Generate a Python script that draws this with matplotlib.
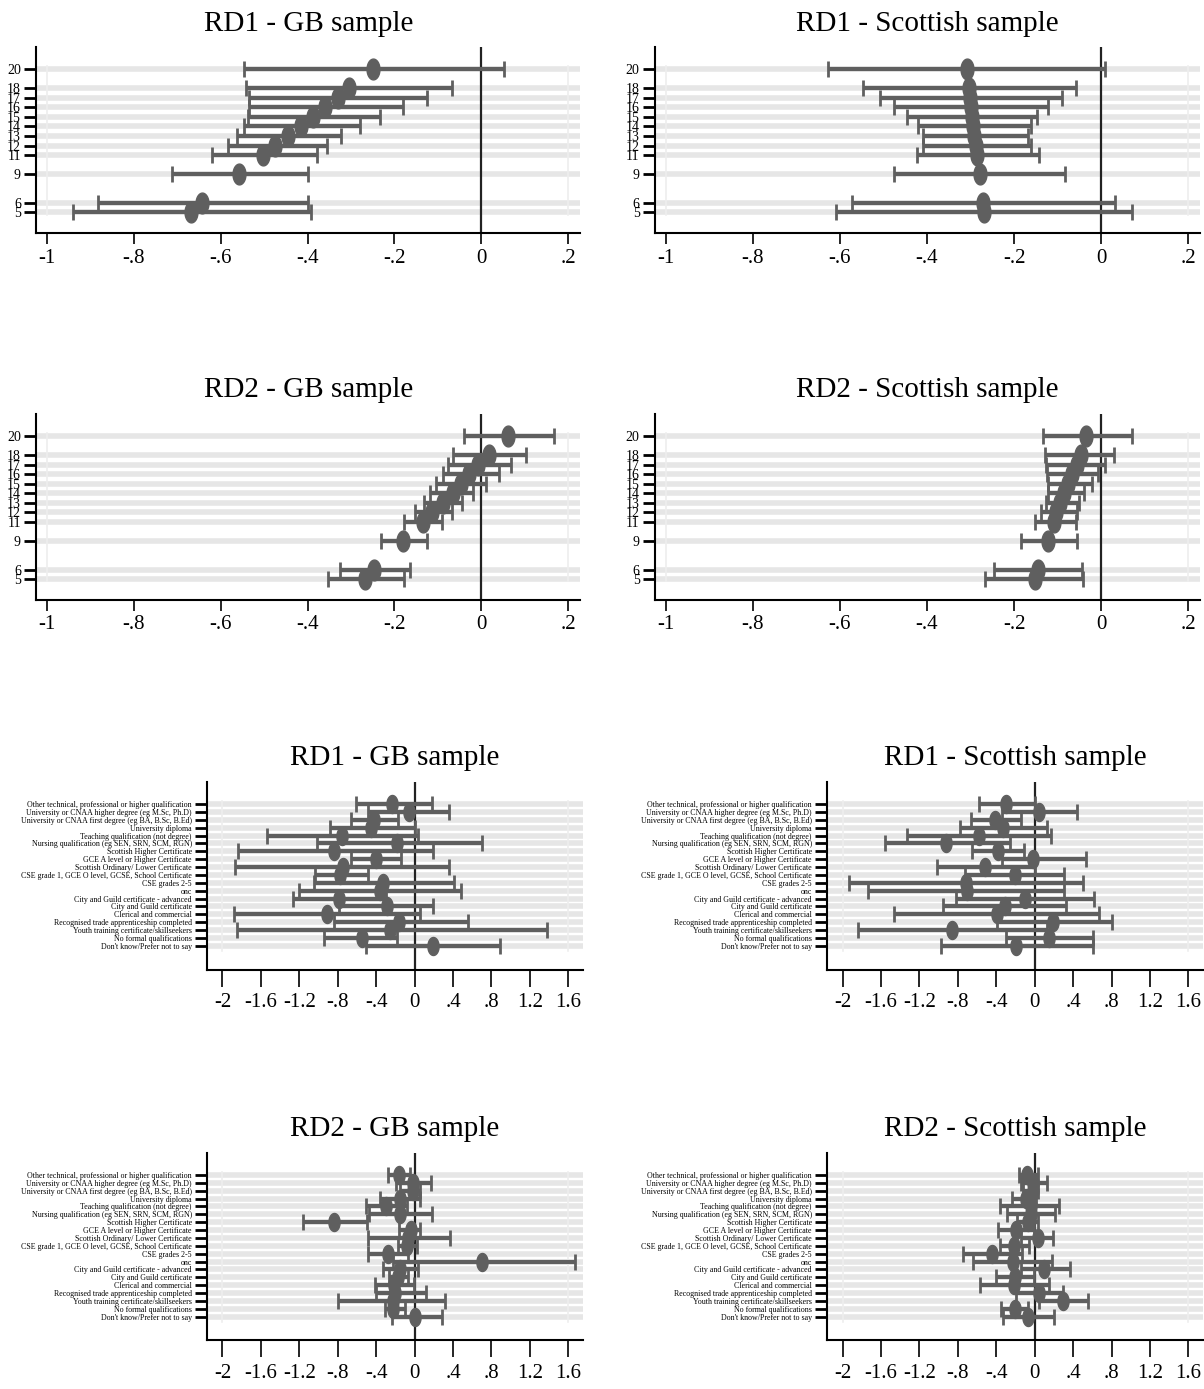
import numpy as np
import matplotlib
matplotlib.use('Agg')
import matplotlib.pyplot as plt
from matplotlib.path import Path

plt.rcParams['font.family'] = ['Liberation Serif', 'DejaVu Serif']

# ---- data: age groups (top two rows) ----
ages = [20, 18, 17, 16, 15, 14, 13, 12, 11, 9, 6, 5]
age_ticks = [5, 6, 9, 11, 12, 13, 14, 15, 16, 17, 18, 20]

rd1_gb_pt = [-0.249, -0.305, -0.331, -0.360, -0.387, -0.414, -0.444, -0.474, -0.503, -0.557, -0.642, -0.669]
rd1_gb_lo = [-0.546, -0.541, -0.536, -0.536, -0.538, -0.546, -0.562, -0.584, -0.621, -0.711, -0.882, -0.940]
rd1_gb_hi = [0.053, -0.067, -0.126, -0.180, -0.234, -0.280, -0.324, -0.356, -0.379, -0.398, -0.398, -0.393]

rd1_sc_pt = [-0.308, -0.304, -0.302, -0.300, -0.297, -0.294, -0.292, -0.288, -0.285, -0.279, -0.272, -0.270]
rd1_sc_lo = [-0.628, -0.547, -0.508, -0.475, -0.445, -0.420, -0.410, -0.410, -0.423, -0.475, -0.573, -0.609]
rd1_sc_hi = [0.010, -0.058, -0.090, -0.121, -0.147, -0.161, -0.168, -0.161, -0.142, -0.082, 0.032, 0.072]

rd2_gb_pt = [0.062, 0.018, -0.007, -0.029, -0.047, -0.066, -0.089, -0.113, -0.135, -0.180, -0.246, -0.267]
rd2_gb_lo = [-0.040, -0.065, -0.077, -0.088, -0.104, -0.117, -0.133, -0.153, -0.177, -0.230, -0.325, -0.354]
rd2_gb_hi = [0.168, 0.104, 0.069, 0.040, 0.011, -0.019, -0.044, -0.068, -0.091, -0.126, -0.165, -0.177]

rd2_sc_pt = [-0.034, -0.047, -0.056, -0.066, -0.077, -0.086, -0.095, -0.103, -0.109, -0.122, -0.144, -0.153]
rd2_sc_lo = [-0.134, -0.128, -0.127, -0.124, -0.122, -0.122, -0.127, -0.138, -0.153, -0.185, -0.245, -0.266]
rd2_sc_hi = [0.072, 0.030, 0.009, -0.008, -0.022, -0.039, -0.051, -0.056, -0.058, -0.056, -0.045, -0.042]

# ---- data: qualifications (bottom two rows), listed top to bottom ----
quals = [
    "Other technical, professional or higher qualification",
    "University or CNAA higher degree (eg M.Sc, Ph.D)",
    "University or CNAA first degree (eg BA, B.Sc, B.Ed)",
    "University diploma",
    "Teaching qualification (not degree)",
    "Nursing qualification (eg SEN, SRN, SCM, RGN)",
    "Scottish Higher Certificate",
    "GCE A level or Higher Certificate",
    "Scottish Ordinary/ Lower Certificate",
    "CSE grade 1, GCE O level, GCSE, School Certificate",
    "CSE grades 2-5",
    "onc",
    "City and Guild certificate - advanced",
    "City and Guild certificate",
    "Clerical and commercial",
    "Recognised trade apprenticeship completed",
    "Youth training certificate/skillseekers",
    "No formal qualifications",
    "Don't know/Prefer not to say",
]

q1_gb_pt = [-0.24, -0.06, -0.42, -0.45, -0.76, -0.18, -0.84, -0.40, -0.75, -0.78, -0.33, -0.36, -0.79, -0.29, -0.91, -0.16, -0.26, -0.55, 0.19]
q1_gb_lo = [-0.61, -0.49, -0.66, -0.88, -1.54, -1.02, -1.84, -0.66, -1.87, -1.04, -1.05, -1.20, -1.27, -0.79, -1.88, -0.84, -1.85, -0.94, -0.51]
q1_gb_hi = [0.18, 0.36, -0.17, 0.00, 0.04, 0.70, 0.19, -0.14, 0.36, -0.48, 0.41, 0.48, -0.30, 0.19, 0.06, 0.56, 1.38, -0.18, 0.89]

q1_sc_pt = [-0.30, 0.05, -0.41, -0.33, -0.58, -0.92, -0.38, -0.02, -0.52, -0.20, -0.71, -0.70, -0.10, -0.31, -0.39, 0.19, -0.86, 0.15, -0.19]
q1_sc_lo = [-0.58, -0.34, -0.66, -0.78, -1.33, -1.56, -0.65, -0.34, -1.02, -0.72, -1.93, -1.73, -0.82, -0.95, -1.46, -0.39, -1.84, -0.30, -0.98]
q1_sc_hi = [0.00, 0.44, -0.14, 0.13, 0.17, -0.26, -0.11, 0.53, 0.00, 0.31, 0.50, 0.31, 0.62, 0.33, 0.67, 0.80, 0.13, 0.61, 0.61]

q2_gb_pt = [-0.16, -0.02, -0.02, -0.15, -0.30, -0.15, -0.84, -0.04, -0.07, -0.08, -0.28, 0.70, -0.15, -0.17, -0.21, -0.20, -0.22, -0.22, 0.00]
q2_gb_lo = [-0.28, -0.19, -0.15, -0.36, -0.51, -0.47, -1.16, -0.16, -0.49, -0.17, -0.49, -0.23, -0.33, -0.27, -0.41, -0.40, -0.80, -0.31, -0.24]
q2_gb_hi = [-0.05, 0.17, 0.06, 0.06, -0.08, 0.18, -0.50, 0.06, 0.37, 0.02, -0.07, 1.67, 0.04, -0.07, -0.01, 0.12, 0.32, -0.10, 0.28]

q2_sc_pt = [-0.08, -0.02, -0.02, -0.09, -0.04, -0.04, -0.07, -0.19, 0.03, -0.21, -0.44, -0.23, 0.10, -0.20, -0.21, 0.05, 0.29, -0.20, -0.07]
q2_sc_lo = [-0.16, -0.14, -0.12, -0.24, -0.36, -0.29, -0.18, -0.38, -0.14, -0.36, -0.75, -0.64, -0.14, -0.40, -0.57, -0.19, 0.04, -0.35, -0.33]
q2_sc_hi = [0.03, 0.13, 0.03, 0.01, 0.25, 0.21, 0.03, -0.01, 0.19, -0.06, -0.13, 0.18, 0.37, -0.01, 0.15, 0.30, 0.55, -0.07, 0.20]

top_xticks = [-1, -0.8, -0.6, -0.4, -0.2, 0, 0.2]
top_xlabels = ['-1', '-.8', '-.6', '-.4', '-.2', '0', '.2']
q_xticks = [-2, -1.6, -1.2, -0.8, -0.4, 0, 0.4, 0.8, 1.2, 1.6]
q_xlabels = ['-2', '-1.6', '-1.2', '-.8', '-.4', '0', '.4', '.8', '1.2', '1.6']

GREY = '#5f5f5f'
t = np.linspace(0, 2 * np.pi, 40)
oval = Path(np.column_stack([0.62 * np.cos(t), np.sin(t)]))

fig = plt.figure(figsize=(12.04, 13.89), dpi=100)


def panel(rect, title, y, pt, lo, hi, xlim, ylim, xticks, xlabels, yticks, ylabels,
          ysize, ms, tlen, tpad):
    ax = fig.add_axes(rect)
    pt = np.array(pt); lo = np.array(lo); hi = np.array(hi)
    for yy in y:
        ax.axhline(yy, color='#e6e6e6', lw=4, zorder=0)
    for xx in (xticks[0], xticks[-1]):
        ax.axvline(xx, color='#eeeeee', lw=1.2, zorder=0, ymin=0.1, ymax=0.9)
    ax.axvline(0, color='#222222', lw=1.6, zorder=1)
    ax.errorbar(pt, y, xerr=[pt - lo, hi - pt], fmt='none', ecolor=GREY,
                elinewidth=3, capsize=6, capthick=2, zorder=2)
    ax.plot(pt, y, linestyle='none', marker=oval, markersize=ms, color=GREY, zorder=3)
    ax.set_xlim(xlim); ax.set_ylim(ylim)
    ax.set_xticks(xticks); ax.set_xticklabels(xlabels, fontsize=15)
    ax.set_yticks(yticks); ax.set_yticklabels(ylabels, fontsize=ysize)
    ax.tick_params(axis='x', length=tlen, width=1.2, pad=tpad)
    ax.tick_params(axis='y', length=9, width=2, pad=2)
    for s in ('top', 'right'):
        ax.spines[s].set_visible(False)
    for s in ('left', 'bottom'):
        ax.spines[s].set_linewidth(1.5)
    ax.set_title(title, fontsize=21, pad=12)
    return ax


top_ylim = (2.8, 22.3)
top_xlim = (-1.025, 0.228)
panel([0.030, 0.832, 0.452, 0.134], 'RD1 - GB sample', ages, rd1_gb_pt, rd1_gb_lo, rd1_gb_hi,
      top_xlim, top_ylim, top_xticks, top_xlabels, age_ticks, age_ticks, 10, 15, 8, 3)
panel([0.544, 0.832, 0.453, 0.134], 'RD1 - Scottish sample', ages, rd1_sc_pt, rd1_sc_lo, rd1_sc_hi,
      top_xlim, top_ylim, top_xticks, top_xlabels, age_ticks, age_ticks, 10, 15, 8, 3)
panel([0.030, 0.568, 0.452, 0.134], 'RD2 - GB sample', ages, rd2_gb_pt, rd2_gb_lo, rd2_gb_hi,
      top_xlim, top_ylim, top_xticks, top_xlabels, age_ticks, age_ticks, 10, 15, 8, 3)
panel([0.544, 0.568, 0.453, 0.134], 'RD2 - Scottish sample', ages, rd2_sc_pt, rd2_sc_lo, rd2_sc_hi,
      top_xlim, top_ylim, top_xticks, top_xlabels, age_ticks, age_ticks, 10, 15, 8, 3)

qy = list(range(len(quals), 0, -1))
q_ylim = (-2.0, 21.8)
q_xlim = (-2.16, 1.75)
panel([0.172, 0.302, 0.312, 0.135], 'RD1 - GB sample', qy, q1_gb_pt, q1_gb_lo, q1_gb_hi,
      q_xlim, q_ylim, q_xticks, q_xlabels, qy, quals, 5.7, 13, 12, 5)
panel([0.687, 0.302, 0.312, 0.135], 'RD1 - Scottish sample', qy, q1_sc_pt, q1_sc_lo, q1_sc_hi,
      q_xlim, q_ylim, q_xticks, q_xlabels, qy, quals, 5.7, 13, 12, 5)
panel([0.172, 0.035, 0.312, 0.135], 'RD2 - GB sample', qy, q2_gb_pt, q2_gb_lo, q2_gb_hi,
      q_xlim, q_ylim, q_xticks, q_xlabels, qy, quals, 5.7, 13, 12, 5)
panel([0.687, 0.035, 0.312, 0.135], 'RD2 - Scottish sample', qy, q2_sc_pt, q2_sc_lo, q2_sc_hi,
      q_xlim, q_ylim, q_xticks, q_xlabels, qy, quals, 5.7, 13, 12, 5)

fig.savefig('out.png', dpi=100)
